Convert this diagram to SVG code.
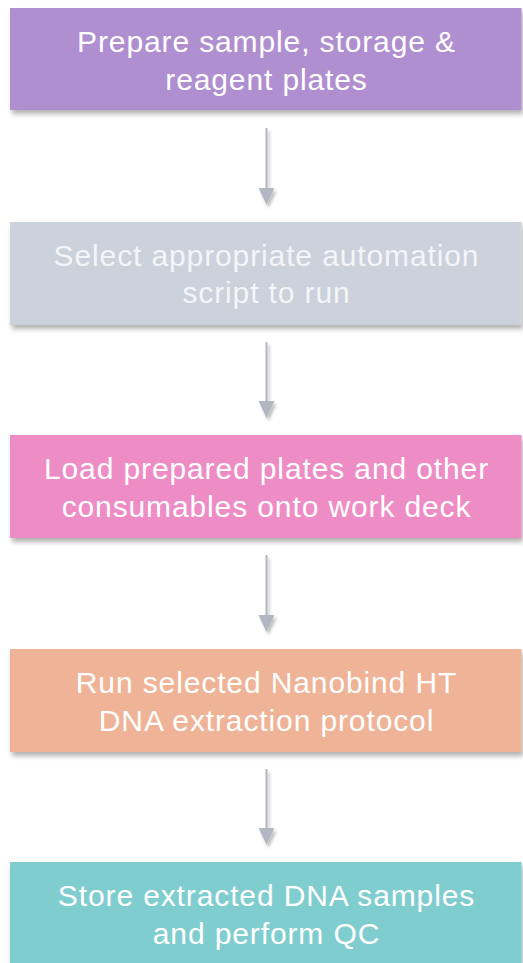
<svg xmlns="http://www.w3.org/2000/svg" width="523" height="963" viewBox="0 0 523 963">
<defs>
<filter id="sh" x="-5%" y="-20%" width="115%" height="150%">
<feDropShadow dx="2" dy="4" stdDeviation="2.5" flood-color="#000" flood-opacity="0.3"/>
</filter>
<filter id="ash" x="-100%" y="-20%" width="300%" height="150%">
<feDropShadow dx="2" dy="3" stdDeviation="1.5" flood-color="#000" flood-opacity="0.25"/>
</filter>
</defs>
<style>
.t{font-family:"Liberation Sans",Arial,sans-serif;font-size:30px;letter-spacing:0.88px;fill:#fff;text-anchor:middle}
.t2{fill:#F4F5F8}
.ln{stroke:#B3B7C1;stroke-width:2;fill:none}
.hd{fill:#B3B7C1}
</style>
<rect width="523" height="963" fill="#fff"/>
<g id="connectors" filter="url(#ash)">
<line class="ln" x1="266.5" y1="128" x2="266.5" y2="192"/>
<polygon class="hd" points="258.5,188 274.5,188 266.5,205"/>
<line class="ln" x1="266.5" y1="342" x2="266.5" y2="405"/>
<polygon class="hd" points="258.5,401 274.5,401 266.5,418"/>
<line class="ln" x1="266.5" y1="555" x2="266.5" y2="619"/>
<polygon class="hd" points="258.5,615 274.5,615 266.5,632"/>
<line class="ln" x1="266.5" y1="769" x2="266.5" y2="832"/>
<polygon class="hd" points="258.5,828 274.5,828 266.5,845"/>
</g>
<g id="n1">
<rect x="10" y="8" width="511.5" height="102" fill="#AF8FCF" filter="url(#sh)"/>
<text class="t" x="266.5" y="52">Prepare sample, storage &amp;</text>
<text class="t" x="266.5" y="90">reagent plates</text>
</g>
<g id="n2">
<rect x="10" y="222" width="511.5" height="103" fill="#CBD2DC" filter="url(#sh)"/>
<text class="t t2" x="266.5" y="266">Select appropriate automation</text>
<text class="t t2" x="266.5" y="303">script to run</text>
</g>
<g id="n3">
<rect x="10" y="435" width="511.5" height="103" fill="#EE8CC6" filter="url(#sh)"/>
<text class="t" x="266.5" y="479">Load prepared plates and other</text>
<text class="t" x="266.5" y="517">consumables onto work deck</text>
</g>
<g id="n4">
<rect x="10" y="649" width="511.5" height="103" fill="#EFB497" filter="url(#sh)"/>
<text class="t" x="266.5" y="693">Run selected Nanobind HT</text>
<text class="t" x="266.5" y="731">DNA extraction protocol</text>
</g>
<g id="n5">
<rect x="10" y="862" width="511.5" height="103" fill="#80CDD0" filter="url(#sh)"/>
<text class="t" x="266.5" y="906">Store extracted DNA samples</text>
<text class="t" x="266.5" y="944">and perform QC</text>
</g>
</svg>
